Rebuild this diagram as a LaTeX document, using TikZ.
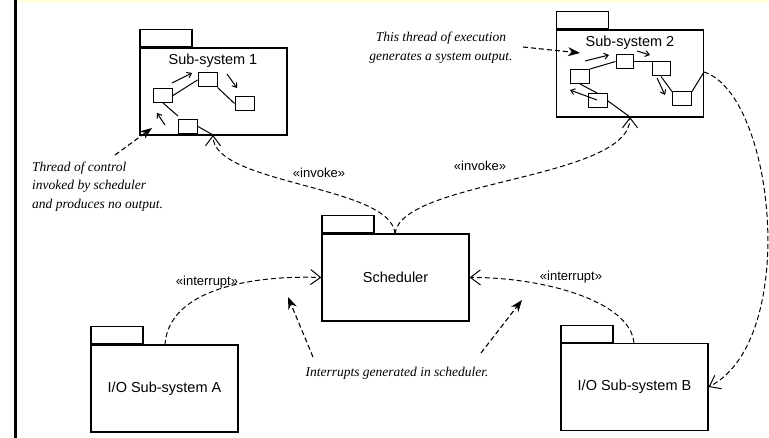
\documentclass[tikz,border=0pt]{standalone}
\usepackage{fontspec}
\setmainfont{Liberation Serif}
\setsansfont{Liberation Sans}
\usetikzlibrary{arrows.meta}

\definecolor{paperyellow}{RGB}{255,255,222}

\tikzset{
  pkgbody/.style={draw, line width=1.2pt, minimum width=147pt, minimum height=87pt, inner sep=0pt},
  pkgtab/.style={draw, line width=1.2pt, minimum width=52pt, minimum height=17pt, inner sep=0pt, anchor=south west},
  pkglabel/.style={font=\sffamily\fontsize{14.5}{17}\selectfont, inner sep=0pt},
  stereo/.style={font=\sffamily\fontsize{13}{15}\selectfont, inner sep=1pt},
  note/.style={font=\itshape\fontsize{13.5}{18.8}\selectfont, inner sep=0pt},
  cell/.style={draw, line width=1pt, minimum width=19pt, minimum height=14pt, inner sep=0pt},
  flow/.style={line width=1pt},
  flowarrow/.style={line width=1pt, -{Straight Barb[length=4pt,width=6pt]}},
  dep/.style={line width=1pt, dash pattern=on 5pt off 3pt, -{Straight Barb[length=10pt,width=15pt]}},
  pointer/.style={line width=1.1pt, dash pattern=on 5pt off 3pt, -{Stealth[length=12pt,width=9pt]}},
}

\begin{document}
\begin{tikzpicture}[x=1pt,y=-1pt]
  \useasboundingbox (0,0) rectangle (769,438);
  \fill[white] (0,0) rectangle (769,438);
  \fill[paperyellow] (16,0) rectangle (769,3);
  \draw[line width=2.5pt] (15.3,0) -- (15.3,438);

  % packages
  \node[pkgbody] (ss1) at (213.5,91.5) {};
  \node[pkgtab] (ss1tab) at (ss1.north west) {};
  \node[pkglabel] (ss1lbl) at (213,61) {Sub-system 1};

  \node[pkgbody] (ss2) at (630,73.5) {};
  \node[pkgtab] (ss2tab) at (ss2.north west) {};
  \node[pkglabel] (ss2lbl) at (630,43) {Sub-system 2};

  \node[pkgbody, pkglabel] (sched) at (395.5,277.5) {Scheduler};
  \node[pkgtab] (schedtab) at (sched.north west) {};

  \node[pkgbody, pkglabel] (ioA) at (164.5,388.5) {I/O Sub-system A};
  \node[pkgtab] (ioAtab) at (ioA.north west) {};

  \node[pkgbody, pkglabel] (ioB) at (634.5,387) {I/O Sub-system B};
  \node[pkgtab] (ioBtab) at (ioB.north west) {};

  % thread of control inside Sub-system 1
  \node[cell] (a) at (163,95.5) {};
  \node[cell] (b) at (207.5,80) {};
  \node[cell] (c) at (244.5,103.5) {};
  \node[cell] (d) at (188,126.5) {};
  \coordinate (ss1in) at (213,135);
  \draw[flow] (a.east) -- (b.west);
  \draw[flow] (b.south east) -- (c.west);
  \draw[flow] (a.south) -- ([yshift=3pt]d.north west);
  \draw[flow] (d.east) -- (ss1in);
  \coordinate (a1s) at (172,83);   \coordinate (a1e) at (192,73);
  \coordinate (a2s) at (227,74);   \coordinate (a2e) at (237,88);
  \coordinate (a3s) at (165,125);  \coordinate (a3e) at (157,113);
  \draw[flowarrow] (a1s) -- (a1e);
  \draw[flowarrow] (a2s) -- (a2e);
  \draw[flowarrow] (a3s) -- (a3e);

  % thread of execution inside Sub-system 2
  \node[cell] (e) at (580,76.5) {};
  \node[cell, minimum width=17pt] (f) at (624.5,61.5) {};
  \node[cell, minimum width=18pt] (g) at (661,69) {};
  \node[cell] (h) at (598,101) {};
  \node[cell] (i) at (682,99) {};
  \coordinate (ss2in) at (630,117);
  \coordinate (ss2out) at (704,72);
  \draw[flow] (e.north east) -- (f.west);
  \draw[flow] (f.east) -- (g.north west);
  \draw[flow] (g.south) -- (i.north west);
  \draw[flow] (i.north east) -- (ss2out);
  \draw[flow] (e.south) -- (h.north);
  \draw[flow] (h.east) -- (ss2in);
  \coordinate (b1s) at (585,61);  \coordinate (b1e) at (609,55);
  \coordinate (b2s) at (637,51);  \coordinate (b2e) at (650,55);
  \coordinate (b3s) at (657,78);  \coordinate (b3e) at (665,95);
  \coordinate (b4s) at (597,100); \coordinate (b4e) at (570,90);
  \draw[flowarrow] (b1s) -- (b1e);
  \draw[flowarrow] (b2s) -- (b2e);
  \draw[flowarrow] (b3s) -- (b3e);
  \draw[flowarrow] (b4s) -- (b4e);

  % dependencies
  \coordinate (schedtop) at (395,234);
  \draw[dep] (schedtop) .. controls (392,185) and (213,185) .. (ss1in);
  \draw[dep] (schedtop) .. controls (400,180) and (630,180) .. (ss2in);
  \coordinate (ioAtop) at (165,345);
  \coordinate (ioBtop) at (634,343);
  \draw[dep] (ioAtop) .. controls (168,290) and (250,275) .. (sched.west);
  \draw[dep] (ioBtop) .. controls (630,300) and (540,277) .. (sched.east);
  \draw[dep] (ss2out) .. controls (775,95) and (800,340) .. (ioB.east);

  \node[stereo] (inv1) at (319,173) {«invoke»};
  \node[stereo] (inv2) at (480,166) {«invoke»};
  \node[stereo] (intA) at (207,282) {«interrupt»};
  \node[stereo] (intB) at (571,277) {«interrupt»};

  % notes
  \node[note, align=center] (noteExec) at (441,47.5) {This thread of execution\\generates a system output.};
  \node[note, align=left, anchor=west] (noteCtrl) at (32,186.5) {Thread of control\\invoked by scheduler\\and produces no output.};
  \node[note] (noteInt) at (397,373) {Interrupts generated in scheduler.};

  \coordinate (p1s) at (115,155); \coordinate (p1e) at (152,128);
  \coordinate (p2s) at (523,47);  \coordinate (p2e) at (580,53);
  \coordinate (p3s) at (313,357); \coordinate (p3e) at (288,297);
  \coordinate (p4s) at (481,353); \coordinate (p4e) at (522,300);
  \draw[pointer] (p1s) -- (p1e);
  \draw[pointer] (p2s) -- (p2e);
  \draw[pointer] (p3s) -- (p3e);
  \draw[pointer] (p4s) -- (p4e);
\end{tikzpicture}
\end{document}
